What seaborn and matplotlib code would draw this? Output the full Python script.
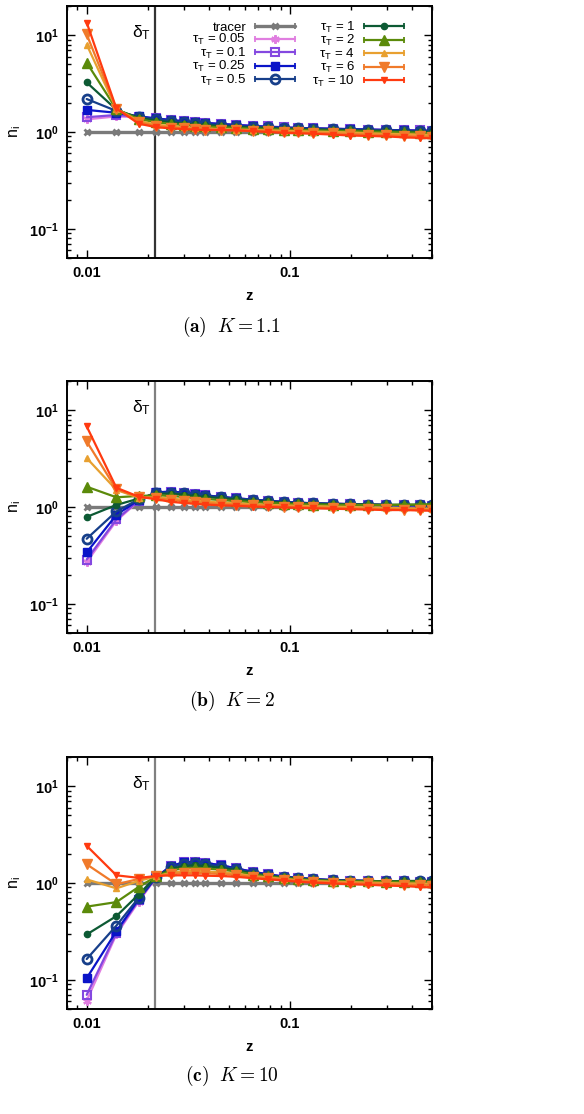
import numpy as np
import pandas as pd
import matplotlib
matplotlib.use("Agg")
import matplotlib.pyplot as plt
import seaborn as sns
from matplotlib.lines import Line2D
from matplotlib.legend_handler import HandlerLine2D, HandlerTuple
from matplotlib.ticker import LogLocator, FixedLocator, FixedFormatter, NullFormatter

# ---------------- data ----------------
Z = [0.01, 0.014, 0.018, 0.022, 0.026, 0.03, 0.034, 0.038, 0.046, 0.054, 0.066,
     0.078, 0.094, 0.11, 0.13, 0.162, 0.198, 0.242, 0.298, 0.366, 0.434, 0.498]
DELTA_T = 0.0216
SERIES = ["tracer", "0.05", "0.1", "0.25", "0.5", "1", "2", "4", "6", "10"]
PANEL_K = ["1.1", "2", "10"]
PANEL_TAGS = ["a", "b", "c"]

TRACER = [1.0, 1.0, 1.0, 1.0, 1.0, 1.0, 1.0, 1.0, 1.0, 1.0, 1.0,
          1.0, 1.0, 1.0, 1.0, 1.0, 1.0, 1.0, 1.0, 1.0, 1.0, 1.0]

# Panel (a) K = 1.1
A_005 = [1.35, 1.45, 1.42, 1.37, 1.32, 1.28, 1.25, 1.23, 1.20, 1.18, 1.15, 1.13, 1.11, 1.10, 1.09, 1.08, 1.07, 1.06, 1.05, 1.04, 1.04, 1.03]
A_01 = [1.42, 1.50, 1.44, 1.38, 1.33, 1.29, 1.26, 1.24, 1.21, 1.19, 1.16, 1.14, 1.12, 1.10, 1.09, 1.08, 1.07, 1.06, 1.05, 1.04, 1.04, 1.03]
A_025 = [1.69, 1.58, 1.45, 1.38, 1.33, 1.29, 1.26, 1.24, 1.21, 1.18, 1.15, 1.13, 1.11, 1.10, 1.09, 1.08, 1.07, 1.06, 1.05, 1.04, 1.03, 1.03]
A_05 = [2.19, 1.65, 1.43, 1.35, 1.30, 1.26, 1.23, 1.21, 1.18, 1.16, 1.13, 1.12, 1.10, 1.09, 1.08, 1.07, 1.06, 1.05, 1.04, 1.03, 1.02, 1.02]
A_1 = [3.25, 1.70, 1.40, 1.31, 1.26, 1.22, 1.20, 1.18, 1.15, 1.13, 1.11, 1.10, 1.08, 1.07, 1.06, 1.05, 1.04, 1.03, 1.02, 1.01, 1.00, 1.00]
A_2 = [5.2, 1.72, 1.36, 1.26, 1.21, 1.18, 1.16, 1.14, 1.12, 1.10, 1.08, 1.07, 1.06, 1.05, 1.04, 1.03, 1.02, 1.01, 1.00, 0.99, 0.98, 0.97]
A_4 = [8.0, 1.73, 1.30, 1.19, 1.15, 1.12, 1.10, 1.09, 1.07, 1.06, 1.05, 1.04, 1.03, 1.02, 1.01, 1.00, 0.99, 0.97, 0.96, 0.95, 0.94, 0.93]
A_6 = [10.2, 1.74, 1.26, 1.15, 1.11, 1.09, 1.07, 1.06, 1.05, 1.04, 1.03, 1.02, 1.00, 0.99, 0.98, 0.97, 0.95, 0.94, 0.93, 0.91, 0.90, 0.89]
A_10 = [13.5, 1.75, 1.22, 1.12, 1.09, 1.07, 1.06, 1.05, 1.05, 1.04, 1.02, 1.00, 0.98, 0.97, 0.96, 0.94, 0.92, 0.91, 0.90, 0.88, 0.87, 0.86]

# Panel (b) K = 2
B_005 = [0.27, 0.72, 1.15, 1.40, 1.43, 1.40, 1.35, 1.32, 1.27, 1.23, 1.19, 1.16, 1.13, 1.11, 1.09, 1.08, 1.07, 1.06, 1.05, 1.04, 1.04, 1.03]
B_01 = [0.287, 0.745, 1.16, 1.41, 1.44, 1.41, 1.36, 1.32, 1.27, 1.23, 1.19, 1.16, 1.13, 1.11, 1.09, 1.08, 1.07, 1.06, 1.05, 1.04, 1.04, 1.03]
B_025 = [0.34, 0.83, 1.18, 1.42, 1.44, 1.41, 1.36, 1.32, 1.27, 1.23, 1.19, 1.16, 1.13, 1.11, 1.09, 1.08, 1.07, 1.06, 1.05, 1.04, 1.04, 1.03]
B_05 = [0.47, 0.90, 1.20, 1.40, 1.41, 1.38, 1.34, 1.30, 1.26, 1.22, 1.18, 1.15, 1.12, 1.10, 1.09, 1.08, 1.07, 1.06, 1.05, 1.05, 1.05, 1.04]
B_1 = [0.79, 1.05, 1.22, 1.37, 1.37, 1.34, 1.30, 1.27, 1.23, 1.20, 1.16, 1.14, 1.11, 1.09, 1.08, 1.07, 1.06, 1.06, 1.05, 1.05, 1.05, 1.05]
B_2 = [1.62, 1.26, 1.30, 1.32, 1.30, 1.27, 1.24, 1.21, 1.18, 1.15, 1.12, 1.10, 1.08, 1.07, 1.06, 1.05, 1.05, 1.05, 1.05, 1.06, 1.06, 1.07]
B_4 = [3.2, 1.50, 1.25, 1.26, 1.22, 1.19, 1.16, 1.14, 1.11, 1.09, 1.07, 1.05, 1.04, 1.03, 1.02, 1.01, 1.00, 0.99, 0.98, 0.97, 0.96, 0.96]
B_6 = [4.75, 1.52, 1.27, 1.23, 1.18, 1.15, 1.12, 1.10, 1.07, 1.06, 1.04, 1.03, 1.01, 1.00, 0.99, 0.98, 0.97, 0.96, 0.95, 0.94, 0.94, 0.93]
B_10 = [6.8, 1.58, 1.28, 1.20, 1.13, 1.10, 1.08, 1.06, 1.04, 1.03, 1.01, 1.00, 0.99, 0.98, 0.97, 0.96, 0.95, 0.94, 0.93, 0.93, 0.92, 0.915]

# Panel (c) K = 10
C_005 = [0.061, 0.295, 0.64, 1.14, 1.50, 1.62, 1.65, 1.62, 1.52, 1.42, 1.30, 1.23, 1.16, 1.13, 1.10, 1.07, 1.06, 1.05, 1.04, 1.04, 1.03, 1.03]
C_01 = [0.070, 0.305, 0.66, 1.15, 1.50, 1.63, 1.66, 1.62, 1.52, 1.42, 1.30, 1.23, 1.16, 1.13, 1.10, 1.07, 1.06, 1.05, 1.04, 1.04, 1.03, 1.03]
C_025 = [0.104, 0.318, 0.68, 1.15, 1.50, 1.63, 1.66, 1.62, 1.52, 1.42, 1.30, 1.23, 1.16, 1.13, 1.10, 1.07, 1.06, 1.05, 1.04, 1.04, 1.03, 1.03]
C_05 = [0.164, 0.363, 0.70, 1.16, 1.45, 1.58, 1.60, 1.57, 1.48, 1.39, 1.28, 1.21, 1.15, 1.12, 1.09, 1.07, 1.06, 1.05, 1.04, 1.04, 1.04, 1.04]
C_1 = [0.294, 0.455, 0.76, 1.17, 1.40, 1.50, 1.52, 1.50, 1.43, 1.36, 1.25, 1.19, 1.14, 1.11, 1.08, 1.06, 1.05, 1.05, 1.04, 1.05, 1.05, 1.05]
C_2 = [0.57, 0.635, 0.91, 1.17, 1.35, 1.42, 1.44, 1.42, 1.37, 1.32, 1.22, 1.17, 1.12, 1.09, 1.07, 1.05, 1.04, 1.04, 1.03, 1.03, 1.03, 1.03]
C_4 = [1.09, 0.88, 1.05, 1.17, 1.28, 1.32, 1.33, 1.32, 1.29, 1.25, 1.18, 1.14, 1.10, 1.07, 1.05, 1.03, 1.02, 1.01, 1.00, 0.99, 0.99, 0.98]
C_6 = [1.56, 0.97, 1.10, 1.18, 1.24, 1.26, 1.27, 1.26, 1.24, 1.21, 1.15, 1.12, 1.08, 1.05, 1.03, 1.01, 1.00, 0.99, 0.98, 0.96, 0.95, 0.94]
C_10 = [2.42, 1.20, 1.13, 1.18, 1.20, 1.20, 1.20, 1.19, 1.18, 1.16, 1.12, 1.09, 1.06, 1.03, 1.01, 0.99, 0.97, 0.96, 0.94, 0.93, 0.91, 0.90]

PANELS = [
    [TRACER, A_005, A_01, A_025, A_05, A_1, A_2, A_4, A_6, A_10],
    [TRACER, B_005, B_01, B_025, B_05, B_1, B_2, B_4, B_6, B_10],
    [TRACER, C_005, C_01, C_025, C_05, C_1, C_2, C_4, C_6, C_10],
]

rows = []
for k, series_list in zip(PANEL_K, PANELS):
    for name, vals in zip(SERIES, series_list):
        for z, v in zip(Z, vals):
            rows.append({"K": k, "series": name, "z": z, "n": v})
df = pd.DataFrame(rows)

# ---------------- styles ----------------
STYLE = {
    "tracer": dict(color="#7a7a7a", marker="x", ms=5, mew=2.0, mfc="#7a7a7a", lw=2.4),
    "0.05": dict(color="#e07ee0", marker=(6, 2, 0), ms=6, mew=1.6, mfc="#e07ee0", lw=1.6),
    "0.1": dict(color="#8448e0", marker="s", ms=6, mew=1.5, mfc="none", lw=1.6),
    "0.25": dict(color="#0a14c8", marker="s", ms=6, mew=1.0, mfc="#0a14c8", lw=1.6),
    "0.5": dict(color="#173f8a", marker="o", ms=6.5, mew=2.0, mfc="none", lw=1.6),
    "1": dict(color="#0d5a34", marker="o", ms=4.5, mew=1.0, mfc="#0d5a34", lw=1.6),
    "2": dict(color="#5b8a0a", marker="^", ms=7.5, mew=1.0, mfc="#5b8a0a", lw=1.6),
    "4": dict(color="#e8a030", marker="^", ms=4.5, mew=1.0, mfc="#e8a030", lw=1.6),
    "6": dict(color="#f07a2a", marker="v", ms=7.5, mew=1.0, mfc="#f07a2a", lw=1.6),
    "10": dict(color="#ff3a10", marker="v", ms=4.5, mew=1.0, mfc="#ff3a10", lw=1.6),
}

sns.set_style("ticks")
plt.rcParams["font.family"] = ["Liberation Sans", "DejaVu Sans"]
plt.rcParams["mathtext.fontset"] = "custom"
plt.rcParams["mathtext.rm"] = "Liberation Sans"
plt.rcParams["mathtext.bf"] = "Liberation Sans:bold"
plt.rcParams["mathtext.it"] = "Liberation Sans:italic"
plt.rcParams["axes.linewidth"] = 1.4
for key in ["text.color", "axes.labelcolor", "xtick.color", "ytick.color", "axes.edgecolor"]:
    plt.rcParams[key] = "black"

fig = plt.figure(figsize=(5.84, 11.14), dpi=100)
W, H = 584.0, 1114.0
ax_left, ax_right = 67, 432
ax_tops = [6, 381, 757]
ax_h = 252
caption_y = [327, 701, 1076]
vline_colors = ["#333333", "#808080", "#808080"]


class CapLine(Line2D):
    pass


for i, (k, tag) in enumerate(zip(PANEL_K, PANEL_TAGS)):
    top = ax_tops[i]
    ax = fig.add_axes([ax_left / W, 1 - (top + ax_h) / H, (ax_right - ax_left) / W, ax_h / H])
    sub = df[df["K"] == k]
    for name in SERIES:
        st = STYLE[name]
        d = sub[sub["series"] == name]
        sns.lineplot(data=d, x="z", y="n", ax=ax, color=st["color"], lw=st["lw"],
                     marker=st["marker"], markersize=st["ms"], markeredgewidth=st["mew"],
                     markerfacecolor=st["mfc"], markeredgecolor=st["color"],
                     legend=False, errorbar=None, sort=True)
    ax.axvline(DELTA_T, color=vline_colors[i], lw=1.6, zorder=0.5)
    ax.set_xscale("log")
    ax.set_yscale("log")
    ax.set_xlim(0.008, 0.5)
    ax.set_ylim(0.05, 20)

    ax.xaxis.set_major_locator(FixedLocator([0.01, 0.1]))
    ax.xaxis.set_major_formatter(FixedFormatter(["0.01", "0.1"]))
    ax.xaxis.set_minor_locator(LogLocator(base=10, subs=np.arange(2, 10)))
    ax.xaxis.set_minor_formatter(NullFormatter())
    ax.yaxis.set_major_locator(FixedLocator([0.1, 1, 10]))
    ax.yaxis.set_major_formatter(FixedFormatter([r"$\mathbf{10^{-1}}$", r"$\mathbf{10^{0}}$", r"$\mathbf{10^{1}}$"]))
    ax.yaxis.set_minor_locator(LogLocator(base=10, subs=np.arange(2, 10)))
    ax.yaxis.set_minor_formatter(NullFormatter())
    ax.tick_params(which="both", direction="in", top=True, right=True, width=1.0, colors="black")
    ax.tick_params(which="major", length=6, labelsize=10.5, pad=6)
    ax.tick_params(which="minor", length=3)
    for lab in ax.get_xticklabels():
        lab.set_fontweight("bold")
    for sp in ax.spines.values():
        sp.set_color("black")
        sp.set_visible(True)

    ax.set_xlabel("z", fontsize=10.5, fontweight="bold", labelpad=6)
    ax.set_ylabel(r"n$_\mathregular{i}$", fontsize=11.5, labelpad=4)

    ax.text(DELTA_T * 0.955, 10.5, r"δ$_\mathregular{T}$", ha="right", va="center",
            fontsize=12.5, color="black")

    fig.text(232 / W, 1 - caption_y[i] / H,
             r"$\mathbf{(" + tag + r")}$  $K = " + k + r"$",
             ha="center", va="center", fontsize=14, math_fontfamily="cm")

    if i == 0:
        handles, labels = [], []
        for name in SERIES:
            st = STYLE[name]
            main = Line2D([], [], color=st["color"], lw=st["lw"], marker=st["marker"],
                          markersize=st["ms"], markeredgewidth=st["mew"],
                          markerfacecolor=st["mfc"], markeredgecolor=st["color"])
            caps = CapLine([], [], color=st["color"], linestyle="none", marker="|",
                           markersize=5, markeredgewidth=1.3)
            handles.append((main, caps))
            labels.append("tracer" if name == "tracer" else r"τ$_\mathregular{T}$ = " + name)
        leg = ax.legend(handles, labels, ncol=2, loc="upper right",
                        bbox_to_anchor=(0.937, 0.966), frameon=False, markerfirst=False,
                        fontsize=9.5, handlelength=3.0, handletextpad=0.7,
                        columnspacing=1.3, labelspacing=-0.12, borderaxespad=0,
                        handler_map={tuple: HandlerTuple(ndivide=1, pad=0),
                                     CapLine: HandlerLine2D(numpoints=2, marker_pad=0)})

fig.savefig("out.png", dpi=100)
